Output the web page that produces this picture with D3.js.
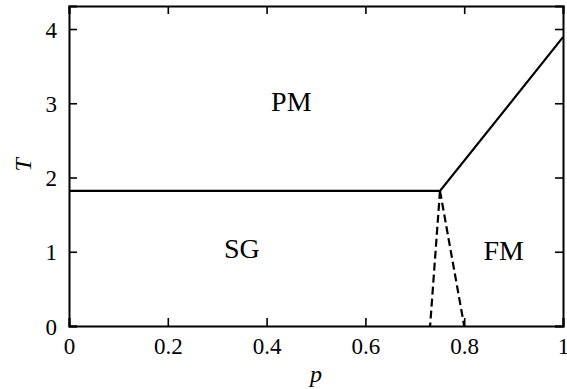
<!DOCTYPE html>
<html>
<head>
<meta charset="utf-8">
<script src="https://cdn.jsdelivr.net/npm/d3@7"></script>
<style>
  body { margin: 0; background: #fff; }
  svg text { font-family: "Liberation Serif", "Times New Roman", Times, serif !important; fill: #000; }
</style>
</head>
<body>
<script>
// phase boundaries (p, T)
var pmBoundary = [[0, 1.82], [0.751, 1.82], [1, 3.89]];
var sgLeft = [[0.751, 1.82], [0.731, 0]];
var sgRight = [[0.751, 1.82], [0.80, 0]];
var xTicks = [0, 0.2, 0.4, 0.6, 0.8, 1];
var yTicks = [0, 1, 2, 3, 4];
var phaseLabels = ['PM', 'SG', 'FM'];
var phasePos = [[0.45, 3.02], [0.35, 1.04], [0.88, 1.02]];

var width = 567, height = 389;
var margin = {left: 69, right: 4, top: 6, bottom: 63};

var svg = d3.select('body').append('svg')
    .attr('width', width)
    .attr('height', height);

var x = d3.scaleLinear().domain([0, 1]).range([margin.left, width - margin.right]);
var y = d3.scaleLinear().domain([0, 4.31]).range([height - margin.bottom, margin.top]);

var tickLen = 8;
var fmtX = function (d) { return d === 0 ? '0' : d === 1 ? '1' : d3.format('.1f')(d); };
var fmtY = d3.format('d');

// all four sides, ticks pointing inward
var axBottom = svg.append('g')
    .attr('transform', 'translate(0,' + y(0) + ')')
    .call(d3.axisBottom(x).tickValues(xTicks).tickSize(-tickLen).tickPadding(tickLen + 4).tickFormat(fmtX));
var axTop = svg.append('g')
    .attr('transform', 'translate(0,' + y(4.31) + ')')
    .call(d3.axisTop(x).tickValues(xTicks).tickSize(-tickLen).tickFormat(''));
var axLeft = svg.append('g')
    .attr('transform', 'translate(' + x(0) + ',0)')
    .call(d3.axisLeft(y).tickValues(yTicks).tickSize(-tickLen).tickPadding(tickLen + 4).tickFormat(fmtY));
var axRight = svg.append('g')
    .attr('transform', 'translate(' + x(1) + ',0)')
    .call(d3.axisRight(y).tickValues(yTicks).tickSize(-tickLen).tickFormat(''));

[axBottom, axTop, axLeft, axRight].forEach(function (g) {
    g.attr('font-family', null);
    g.selectAll('path.domain').attr('stroke', '#000').attr('stroke-width', 2);
    g.selectAll('.tick line').attr('stroke', '#000').attr('stroke-width', 1.6);
    g.selectAll('.tick text').style('font-size', '23px').attr('fill', '#000');
});
axBottom.selectAll('.tick text').attr('dy', '0.71em');
axLeft.selectAll('.tick text').attr('dy', '0.35em');

var line = d3.line().x(function (d) { return x(d[0]); }).y(function (d) { return y(d[1]); });

svg.append('path')
    .attr('d', line(pmBoundary))
    .attr('fill', 'none')
    .attr('stroke', '#000')
    .attr('stroke-width', 2.2);

[sgLeft, sgRight].forEach(function (seg) {
    svg.append('path')
        .attr('d', line(seg))
        .attr('fill', 'none')
        .attr('stroke', '#000')
        .attr('stroke-width', 2.2)
        .attr('stroke-dasharray', '8,4');
});

svg.selectAll('text.phase')
    .data(phaseLabels)
    .enter()
    .append('text')
    .attr('class', 'phase')
    .attr('x', function (d, i) { return x(phasePos[i][0]); })
    .attr('y', function (d, i) { return y(phasePos[i][1]); })
    .attr('text-anchor', 'middle')
    .attr('dominant-baseline', 'central')
    .style('font-size', '28px')
    .text(function (d) { return d; });

svg.append('text')
    .attr('x', x(0.5))
    .attr('y', 382)
    .attr('text-anchor', 'middle')
    .style('font-size', '24px')
    .style('font-style', 'italic')
    .text('p');

svg.append('text')
    .attr('transform', 'translate(31,' + y(2.17) + ') rotate(-90)')
    .attr('text-anchor', 'middle')
    .style('font-size', '24px')
    .style('font-style', 'italic')
    .text('T');
</script>
</body>
</html>
